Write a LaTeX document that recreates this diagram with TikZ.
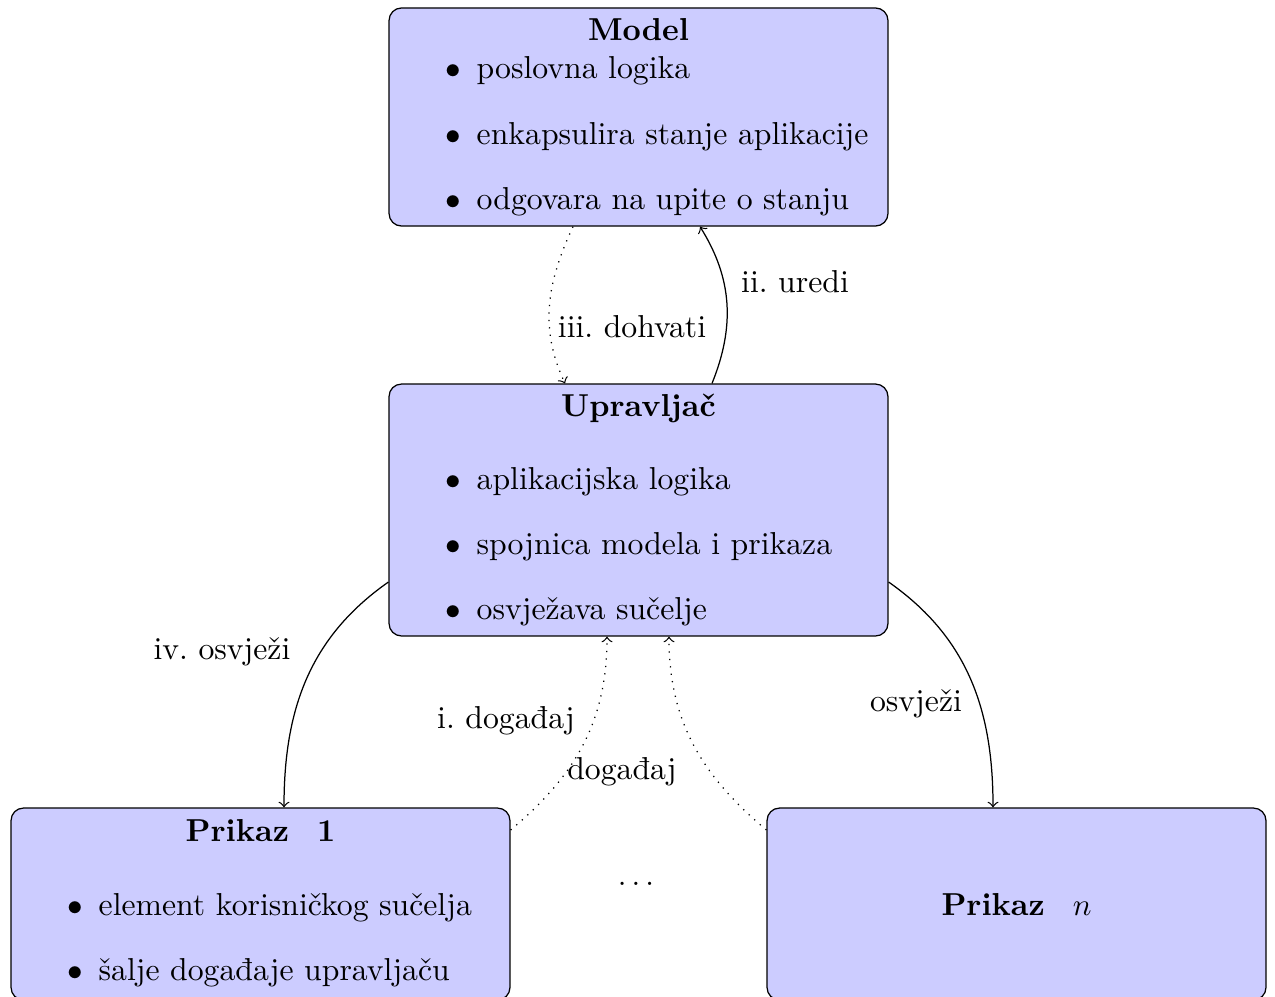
\documentclass[tikz,border=0pt]{standalone}
\usepackage{fontspec}
\frenchspacing
\begin{document}
\begin{tikzpicture}[x=0.3215pt,y=-0.3215pt,
  every node/.style={font=\fontsize{10.2pt}{12pt}\selectfont},
  box/.style={draw=black, fill=blue!20, rounded corners=4pt, inner sep=0pt,
    minimum width=160.4pt},
  title/.style={inner sep=0pt, anchor=base, font=\fontsize{10.2pt}{12pt}\selectfont\bfseries},
  item/.style={inner sep=0pt, anchor=base west},
  lbl/.style={inner sep=0pt, anchor=center},
  flow/.style={->},
  evt/.style={->, dotted}]
\clip (0,0) rectangle (1275,996);

% boxes
\node[box, minimum height=70.1pt] (model) at (638.5,117) {};
\node[box, minimum height=81.0pt] (upr) at (638.5,510) {};
\node[box, minimum height=61.7pt] (p1) at (260.5,904) {};
\node[box, minimum height=61.7pt] (pn) at (1016.5,904) {};

% Model
\node[title] (mt) at (638.5,40) {Model};
\node[item] (m1) at (445,78) {$\bullet$\hspace{5pt}poslovna logika};
\node[item] (m2) at (445,144) {$\bullet$\hspace{5pt}enkapsulira stanje aplikacije};
\node[item] (m3) at (445,209) {$\bullet$\hspace{5pt}odgovara na upite o stanju};

% Upravljac
\node[title] (ut) at (638.5,416) {Upravljač};
\node[item] (u1) at (445,489) {$\bullet$\hspace{5pt}aplikacijska logika};
\node[item] (u2) at (445,554) {$\bullet$\hspace{5pt}spojnica modela i prikaza};
\node[item] (u3) at (445,619) {$\bullet$\hspace{5pt}osvježava sučelje};

% Prikaz 1
\node[title] (pt) at (260.5,841) {Prikaz\hspace{9pt}1};
\node[item] (p1a) at (67,915) {$\bullet$\hspace{5pt}element korisničkog sučelja};
\node[item] (p1b) at (67,980) {$\bullet$\hspace{5pt}šalje događaje upravljaču};

% Prikaz n
\node[title] (pnt) at (1016.5,915) {Prikaz\hspace{9pt}$n$};

% ellipsis between the views
\node[lbl] (dots) at (636,884) {$\dots$};

% connectors
\draw[evt] ([shift={(-65.5,0)}]model.south) to[out=245,in=115] ([shift={(-73.5,0)}]upr.north);
\draw[flow] ([shift={(73.5,0)}]upr.north) to[out=68,in=-58] ([shift={(61.5,0)}]model.south);
\draw[flow] ([shift={(0,72)}]upr.west) to[out=215,in=90] ([shift={(23.5,0)}]p1.north);
\draw[flow] ([shift={(0,72)}]upr.east) to[out=-35,in=90] ([shift={(-23.5,0)}]pn.north);
\draw[evt] ([shift={(0,-74)}]p1.east) to[out=40,in=-90] ([shift={(-31.5,0)}]upr.south);
\draw[evt] ([shift={(0,-74)}]pn.west) to[out=140,in=-90] ([shift={(30.5,0)}]upr.south);

% connector labels
\node[lbl] (l3) at (632,327) {iii. dohvati};
\node[lbl] (l2) at (795,282) {ii. uredi};
\node[lbl] (l4) at (222,652) {iv. osvježi};
\node[lbl] (l5) at (916,704) {osvježi};
\node[lbl] (l1) at (506,721) {i. događaj};
\node[lbl] (l6) at (622,772) {događaj};
\end{tikzpicture}
\end{document}
